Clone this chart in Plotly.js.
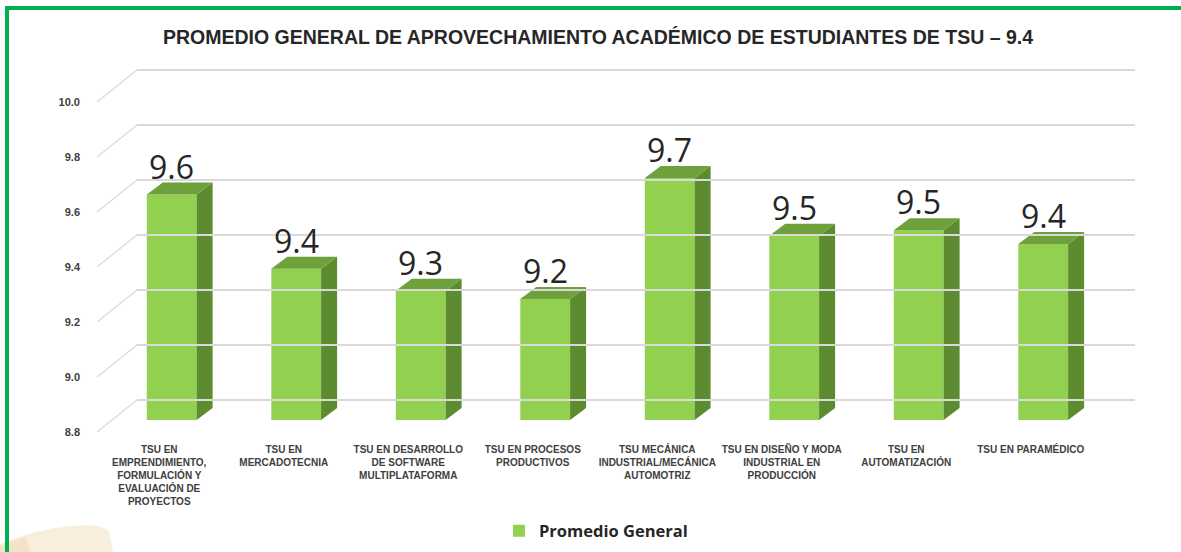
<!DOCTYPE html>
<html>
<head>
<meta charset="utf-8">
<script src="https://cdn.plot.ly/plotly-3.0.1.min.js"></script>
<style>
  html, body { margin: 0; padding: 0; background: #ffffff; }
  #wrap { position: relative; width: 1181px; height: 552px; overflow: hidden; }
  #frame { position: absolute; left: 5px; top: 6px; width: 1200px; height: 600px;
           border-left: 4px solid #00b050; border-top: 4px solid #00b050; box-sizing: border-box; z-index: 3; pointer-events: none; }
  #mark { position: absolute; left: 0; top: 0; z-index: 0; }
  #chart { position: absolute; left: 0; top: 0; width: 1181px; height: 552px; z-index: 1; }
</style>
</head>
<body>
<div id="wrap">
  <svg id="mark" width="1181" height="552">
    <path d="M0,552 L0,544 Q35,529 72,526 Q100,523 109,531 L113,552 Z" fill="#f8eedd"/>
    <path d="M0,552 L0,546 Q14,540 26,537 L30,552 Z" fill="#f4e2c4"/>
  </svg>
  <div id="chart"></div>
  <div id="frame"></div>
</div>
<script>
// ---- data ----
const categories = [
  "TSU EN<br>EMPRENDIMIENTO,<br>FORMULACIÓN Y<br>EVALUACIÓN DE<br>PROYECTOS",
  "TSU EN<br>MERCADOTECNIA",
  "TSU EN DESARROLLO<br>DE SOFTWARE<br>MULTIPLATAFORMA",
  "TSU EN PROCESOS<br>PRODUCTIVOS",
  "TSU MECÁNICA<br>INDUSTRIAL/MECÁNICA<br>AUTOMOTRIZ",
  "TSU EN DISEÑO Y MODA<br>INDUSTRIAL EN<br>PRODUCCIÓN",
  "TSU EN<br>AUTOMATIZACIÓN",
  "TSU EN PARAMÉDICO"
];
const values = [9.62, 9.35, 9.27, 9.24, 9.68, 9.47, 9.49, 9.44];
const dataLabels = ["9.6", "9.4", "9.3", "9.2", "9.7", "9.5", "9.5", "9.4"];
const yTickValues = [8.8, 9.0, 9.2, 9.4, 9.6, 9.8, 10.0];
const yTickLabels = ["8.8", "9.0", "9.2", "9.4", "9.6", "9.8", "10.0"];
const seriesName = "Promedio General";
const titleText = "PROMEDIO GENERAL DE APROVECHAMIENTO ACADÉMICO DE ESTUDIANTES DE TSU – 9.4";

// ---- styling / geometry ----
const W = 1181, H = 552;
const M = {l: 97, r: 46, t: 60, b: 120};
const plotW = W - M.l - M.r;           // 1038
const plotH = H - M.t - M.b;           // 372
const frontW = 996;                    // width of front plane
const depthX = 40, depthY = 32;        // wall depth in px
const pxPerUnit = 275;                 // px per 1.0 on value axis
const base = 8.8;
const barOffset = -0.1, barWidth = 0.4;
const barDepthXpx = 16, barDepthYpx = 12;
const barFrontShift = 12;              // bar front plane is 12px above label plane
const catPx = frontW / categories.length;
const dxd = barDepthXpx / catPx;
const dyd = barDepthYpx / pxPerUnit;

const xIdx = categories.map((_, i) => i);

// y ranges of the three planes
const yLabelRange = [base, base + plotH / pxPerUnit];
const yBarRange = [base - barFrontShift / pxPerUnit, base - barFrontShift / pxPerUnit + plotH / pxPerUnit];
const yBackRange = [base - depthY / pxPerUnit, base - depthY / pxPerUnit + plotH / pxPerUnit];

const barTrace = {
  type: 'bar', x: xIdx, y: values.map(v => v - base), base: base,
  width: barWidth, offset: barOffset,
  marker: {color: '#92d050', line: {width: 0}},
  name: seriesName, showlegend: true, hoverinfo: 'skip',
  xaxis: 'x', yaxis: 'y'
};

const sideX = [], sideY = [], topX = [], topY = [];
xIdx.forEach((i) => {
  const L = i + barOffset, R = i + barOffset + barWidth, v = values[i];
  sideX.push(R, R + dxd, R + dxd, R, R, null);
  sideY.push(base, base + dyd, v + dyd, v, base, null);
  topX.push(L, L + dxd, R + dxd, R, L, null);
  topY.push(v, v + dyd, v + dyd, v, v, null);
});
const sideTrace = {type: 'scatter', mode: 'lines', x: sideX, y: sideY, fill: 'toself',
  fillcolor: '#5c8b30', line: {width: 0, color: '#5c8b30'}, showlegend: false, hoverinfo: 'skip', xaxis: 'x', yaxis: 'y'};
const topTrace = {type: 'scatter', mode: 'lines', x: topX, y: topY, fill: 'toself',
  fillcolor: '#6ea13c', line: {width: 0, color: '#6ea13c'}, showlegend: false, hoverinfo: 'skip', xaxis: 'x', yaxis: 'y'};
const backTrace = {type: 'scatter', x: [null], y: [null], xaxis: 'x2', yaxis: 'y2', showlegend: false, hoverinfo: 'skip'};
const labelAxisTrace = {type: 'scatter', x: [null], y: [null], xaxis: 'x', yaxis: 'y3', showlegend: false, hoverinfo: 'skip'};

const annotations = xIdx.map(i => ({
  x: i + barOffset + barWidth / 2, y: values[i], xref: 'x', yref: 'y',
  text: dataLabels[i], showarrow: false, yanchor: 'bottom', xanchor: 'center', yshift: 5,
  font: {family: 'Open Sans, Noto Sans, sans-serif', size: 32, color: '#262626'}
}));

const shapes = yTickValues.map(t => ({
  type: 'line', xref: 'x', xsizemode: 'pixel', xanchor: -0.5, x0: 0, x1: depthX,
  yref: 'y3', ysizemode: 'pixel', yanchor: t, y0: 0, y1: depthY,
  line: {color: '#d9d9d9', width: 1.3}, layer: 'below'
}));

const layout = {
  width: W, height: H,
  margin: M,
  paper_bgcolor: 'rgba(0,0,0,0)', plot_bgcolor: 'rgba(0,0,0,0)',
  title: {text: titleText, xref: 'container', x: 598 / W, xanchor: 'center', yref: 'container', y: 1 - 37 / H, yanchor: 'middle',
    font: {family: 'Liberation Sans Narrow, Arial Narrow, Liberation Sans, sans-serif', size: 19.5, color: '#262626', weight: 'bold'}},
  xaxis: {domain: [0, frontW / plotW], range: [-0.5, categories.length - 0.5], tickvals: xIdx, ticktext: categories,
    showgrid: false, zeroline: false, showline: false, ticks: '', tickangle: 0, ticklabelstandoff: 10,
    tickfont: {family: 'Liberation Sans Narrow, Arial Narrow, Liberation Sans, sans-serif', size: 10, color: '#404040', weight: 'bold'},
    anchor: 'y', fixedrange: true},
  yaxis: {domain: [0, 1], range: yBarRange, showgrid: false, zeroline: false, showticklabels: false, showline: false, ticks: '', anchor: 'x'},
  yaxis3: {overlaying: 'y', anchor: 'x', side: 'left', range: yLabelRange, tickvals: yTickValues, ticktext: yTickLabels,
    showgrid: false, zeroline: false, showline: false, ticks: '', ticklabelstandoff: 16,
    tickfont: {family: 'Liberation Sans, Arial, sans-serif', size: 11, color: '#404040', weight: 'bold'}},
  xaxis2: {domain: [depthX / plotW, 1], anchor: 'y2', range: [0, 1], showgrid: false, zeroline: false, showticklabels: false, showline: false, ticks: ''},
  yaxis2: {domain: [0, 1], anchor: 'x2', range: yBackRange, tickvals: yTickValues, showgrid: true, gridcolor: '#d9d9d9', gridwidth: 1.3,
    zeroline: false, showticklabels: false, showline: false, ticks: ''},
  showlegend: true,
  legend: {orientation: 'h', xref: 'container', x: 499 / W, xanchor: 'left', yref: 'container', y: 1 - 531 / H, yanchor: 'middle',
    font: {family: 'Open Sans, Noto Sans, sans-serif', size: 16.5, color: '#262626', weight: 'bold'}, bgcolor: 'rgba(0,0,0,0)'},
  annotations: annotations,
  shapes: shapes
};

Plotly.newPlot('chart', [backTrace, labelAxisTrace, barTrace, sideTrace, topTrace], layout, {displayModeBar: false, staticPlot: true});
</script>
</body>
</html>
